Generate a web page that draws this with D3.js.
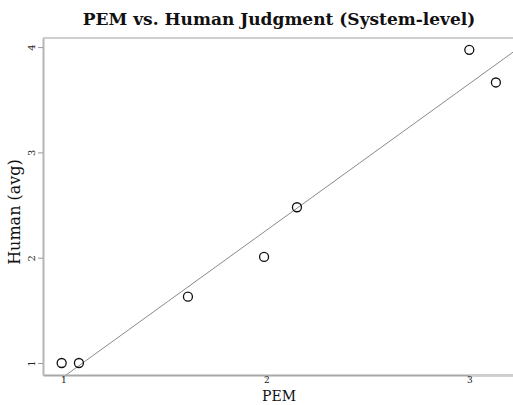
<!DOCTYPE html>
<html>
<head>
<meta charset="utf-8">
<script src="https://cdn.jsdelivr.net/npm/d3@7"></script>
<style>
  body { margin: 0; background: #fff; }
  text { font-family: "DejaVu Serif", serif; }
</style>
</head>
<body>
<div id="chart"></div>
<script>
// system-level scores
const pemScores = [0.992, 1.077, 1.614, 1.989, 2.151, 3.0, 3.131];
const humanScores = [1.0, 1.0, 1.63, 2.007, 2.479, 3.974, 3.664];
const xTicks = [1, 2, 3];
const yTicks = [1, 2, 3, 4];

const svgwidth = 513;
const svgheight = 405;
const margin = { left: 43, right: 0, top: 38, bottom: 30 };
const width = svgwidth - margin.left - margin.right;
const height = svgheight - margin.top - margin.bottom;

const svg = d3.select('#chart').append('svg')
  .attr('width', svgwidth)
  .attr('height', svgheight);

// x: 1 -> 63.3px, 3 -> 469.3px ; y: 1 -> 363px, 4 -> 47px
const x = d3.scaleLinear()
  .domain([0.9, 0.9 + width / 203])
  .range([0, width]);
const y = d3.scaleLinear()
  .domain([1 - 12 / 105.3, 1 - 12 / 105.3 + height / 105.3])
  .range([height, 0]);

const g = svg.append('g')
  .attr('transform', `translate(${margin.left},${margin.top})`);

g.append('defs').append('clipPath')
  .attr('id', 'plotclip')
  .append('rect')
  .attr('width', width)
  .attr('height', height);

// frame
g.append('line')
  .attr('x1', 0).attr('x2', width)
  .attr('y1', 0).attr('y2', 0)
  .attr('stroke', '#cfcfcf')
  .attr('stroke-width', 2);

// least squares fit
const mx = d3.mean(pemScores);
const my = d3.mean(humanScores);
const sxy = d3.sum(pemScores, (v, i) => (v - mx) * (humanScores[i] - my));
const sxx = d3.sum(pemScores, v => (v - mx) * (v - mx));
const slope = sxy / sxx;
const intercept = my - slope * mx;
const [x0, x1] = x.domain();

g.append('line')
  .attr('clip-path', 'url(#plotclip)')
  .attr('x1', x(x0)).attr('y1', y(intercept + slope * x0))
  .attr('x2', x(x1)).attr('y2', y(intercept + slope * x1))
  .attr('stroke', '#8a8a8a')
  .attr('stroke-width', 1);

// x axis
const xAxis = g.append('g')
  .attr('transform', `translate(0,${height})`)
  .call(d3.axisBottom(x).tickValues(xTicks).tickFormat(d3.format('d')).tickSize(4).tickSizeOuter(0));
xAxis.select('.domain').attr('stroke', '#a8a8a8').attr('stroke-width', 2);
xAxis.selectAll('.tick line').attr('stroke', '#bbb');
xAxis.selectAll('.tick text')
  .attr('y', 2)
  .style('font-family', '"DejaVu Serif", serif')
  .style('font-size', '9px')
  .attr('fill', '#222');
xAxis.append('line')
  .attr('x1', x(3)).attr('x2', width)
  .attr('y1', 0).attr('y2', 0)
  .attr('stroke', '#cfcfcf')
  .attr('stroke-width', 2);

// y axis
const yAxis = g.append('g')
  .call(d3.axisLeft(y).tickValues(yTicks).tickFormat(d3.format('d')).tickSize(5).tickSizeOuter(0));
yAxis.select('.domain').attr('stroke', '#b5b5b5').attr('stroke-width', 2);
yAxis.selectAll('.tick line').attr('stroke', '#999');
yAxis.selectAll('.tick text')
  .attr('x', null)
  .attr('dy', null)
  .attr('text-anchor', 'middle')
  .attr('transform', 'translate(-8,0) rotate(-90)')
  .style('font-family', '"DejaVu Serif", serif')
  .style('font-size', '10px')
  .attr('fill', '#222');

// points
g.selectAll('.pt')
  .data(pemScores)
  .enter()
  .append('circle')
  .attr('class', 'pt')
  .attr('cx', d => x(d))
  .attr('cy', (d, i) => y(humanScores[i]))
  .attr('r', 4.5)
  .attr('fill', 'none')
  .attr('stroke', '#111')
  .attr('stroke-width', 1.3);

// title and labels
svg.append('text')
  .attr('x', 279)
  .attr('y', 25)
  .attr('text-anchor', 'middle')
  .style('font-size', '17px')
  .style('font-weight', 'bold')
  .attr('fill', '#111')
  .text('PEM vs. Human Judgment (System-level)');

svg.append('text')
  .attr('x', 279)
  .attr('y', 401)
  .attr('text-anchor', 'middle')
  .style('font-size', '14px')
  .attr('fill', '#111')
  .text('PEM');

svg.append('text')
  .attr('transform', 'translate(20,212) rotate(-90)')
  .attr('text-anchor', 'middle')
  .style('font-size', '16px')
  .attr('fill', '#111')
  .text('Human (avg)');
</script>
</body>
</html>
